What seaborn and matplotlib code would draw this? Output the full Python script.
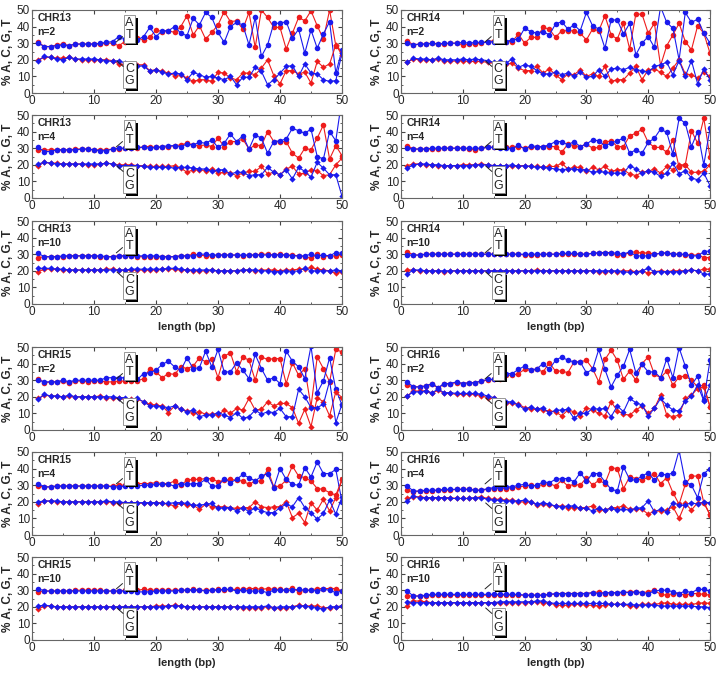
import numpy as np
import matplotlib
matplotlib.use("Agg")
import matplotlib.pyplot as plt
import matplotlib.patheffects as pe
from matplotlib.ticker import MultipleLocator
import seaborn as sns

# x positions (bp)
length = list(range(1, 51))

# ---- CHR13 ----
chr13_n2_a = [30.5,28,28,29,29.5,28.5,29.5,29.5,29.5,29.5,29.5,30,30,28.5,31,33,33,32,33.5,38,37,37.5,36.5,40,46.5,35,40.5,32.5,36.5,41,49,43,43.5,38.5,48.5,27.5,50,45.5,39.5,39.5,26.5,36,45.5,43.5,49.5,40.5,32.5,50,28.5,25]
chr13_n2_t = [30,28,28,28.5,29,28.5,29.5,29.5,29.5,29.5,30,30.5,31,34,32.5,33,32,34,39.5,34,37.5,37.5,40,36,34.5,45,41,48.5,45.5,36.5,30.5,40,42.5,41,29,45.5,22,29,42,42,43,33,38.5,24,38,27,35.5,43,12,26]
chr13_n2_c = [20,21.5,21.5,21,21,21.5,20.5,20,20,20,20,20,19.5,17.5,17,16.5,17,17,13.5,14,13,12,10.5,11,9,7,8,8,7,12.5,12,9,8,12,12,11,15,20,10.5,5.5,13.5,13.5,11.5,12.5,6,19,15.5,17.5,29,23]
chr13_n2_g = [19.5,22,21.5,20.5,20,21.5,20.5,20.5,20.5,20.5,20,19.5,19,19.5,18,16,16,16.5,13,14,12.5,11.5,12,11.5,8,12.5,11,9.5,10,9,8,10,5,9.5,9.5,15.5,13,5,8,12,16,16.5,10,17.5,12,11.5,8,7,7.5,24]

chr13_n4_a = [29,29,29,29,29,29,29.5,29.5,29.5,29,29,29,29.5,29.5,30,30,30,31,31,30.5,30.5,31,31.5,32,33,32,31.5,32,31,36,31,34,34,35.5,29.5,32,31.5,40,34,34,34,27,24,30,29,36,44,23.5,31.5,25.5]
chr13_n4_t = [30.5,28,28,29,29,29,29,29.5,29.5,29,28.5,28.5,29.5,30,30,30,30.5,30.5,30,30.5,31,31.5,31.5,31,32.5,32,33.5,33,35,30.5,33,38.5,34,37.5,29.5,38,36,27,34,34.5,35.5,42,40.5,39,41.5,25,23.5,40,34.5,60]
chr13_n4_c = [19.5,21.5,21,21,20.5,20.5,20.5,20.5,20,20,20.5,21,20.5,20,20,20,19.5,19.5,19,19,19,19,19.5,18,15.5,17,17,16.5,17.5,15,15.5,15,13.5,15,16,16,19,14.5,15.5,14,17.5,19,14.5,15,17,16.5,13.5,14,20,24]
chr13_n4_g = [20.5,21.5,21,20.5,20.5,20.5,20.5,20.5,20.5,20.5,20.5,21,20.5,19.5,19.5,19.5,19.5,19,18.5,18.5,18.5,18.5,18,18.5,18.5,18,17.5,17.5,16,17,17,14.5,15.5,15.5,13.5,14,14,18.5,15.5,14,17,11.5,18.5,16,12.5,21.5,18,14,14,1]

chr13_n10_a = [28,28.5,28.5,28.5,28.5,29,29,29,29,29,28.5,28.5,28.5,29,29,29,28.5,28.5,28.5,28.5,28.5,28.5,28.5,29,29,30,29.5,29,29,29.5,29.5,29.5,29.5,29,29.5,29.5,30,30,29.5,30,29.5,29.5,29,28.5,27.5,30,28.5,29,29,29.5]
chr13_n10_t = [30.5,28.5,28.5,28.5,29,29,29,29,29,29,29,28.5,28.5,29,29,29,29,29,29,29,28.5,28.5,28.5,29,29,29,30,30,29.5,29.5,29.5,29.5,29.5,29.5,29.5,29.5,29.5,29.5,29.5,29.5,29.5,29,29,29,30,29,29.5,29,31,30.5]
chr13_n10_c = [19.5,21,21,21,20.5,20.5,20.5,20.5,20.5,20.5,20.5,21,21,20.5,20.5,20.5,20.5,20.5,20.5,20.5,21,21,21,20.5,20.5,20,20,20,20.5,20,20,20,20,20.5,20.5,20,20.5,20.5,20.5,20,20.5,20.5,21,21,22,21,20.5,20,18.5,19.5]
chr13_n10_g = [21.5,21.5,21.5,21,21,20.5,20.5,20.5,20.5,20.5,20.5,20.5,20.5,20.5,20.5,21,21,21,21,21,21,21.5,21.5,21,20.5,20.5,20.5,20.5,20.5,20,20,20,20,20.5,20.5,20.5,20,20,19.5,19.5,20,19.5,20,21.5,20,20,20,20,20.5,20]

# ---- CHR14 ----
chr14_n2_a = [31.5,29,29.5,29.5,30,29.5,29.5,30,30,29,29.5,29.5,30,31,31.5,31.5,31,31,35.5,30,33.5,33.5,39.5,38.5,33.5,37.5,37.5,37.5,36,32,38.5,37.5,46.5,35,32.5,42,26.5,47.5,47.5,36,42,16.5,28.5,35,42,31,26,40.5,36,24]
chr14_n2_t = [30,29,29.5,29.5,30,29.5,30,30,30,30.5,30,30.5,30.5,30.5,31,31.5,31,32,32.5,39,37,36,37,35,41.5,43,38.5,41,37.5,48.5,40.5,38.5,27,44,44,35.5,42,23,30,34,27.5,52,42.5,39,20,48.5,42.5,44.5,36,30]
chr14_n2_c = [18.5,20.5,20,20,20,20.5,19.5,19,19.5,19.5,19,19,19,18.5,18,17,17.5,18,15,13.5,13.5,16,12,14.5,11,8,11.5,11,14,10,11.5,10,16,7,8,8,12,16,8,14,14.5,12.5,10,15,20,11.5,11,9,12.5,10]
chr14_n2_g = [18.5,21,20.5,20.5,20,21,20,20,20,20.5,20,20.5,20,19.5,18.5,19,18,20.5,15.5,17,16,13.5,11.5,11.5,12.5,11,12,10,12.5,9.5,10,14,10,14.5,15,14,15.5,14,13.5,12.5,16,17,18.5,11,19.5,10,19.5,5.5,14.5,8]

chr14_n4_a = [31.5,29.5,29.5,29.5,29.5,29.5,30,30,30,30,29.5,29,30,30.5,30.5,30.5,30.5,30.5,31,30,30.5,30.5,31,31,31,27.5,32.5,31.5,31,32.5,30,30.5,33.5,34.5,31,31,37.5,39,41.5,33.5,30.5,30.5,27.5,35,18.5,20,40.5,33,48,24.5]
chr14_n4_t = [30,29.5,29.5,29.5,30,30,30,30,30,30,30,30,30,30.5,30.5,30,30,29.5,32,29.5,31.5,31,31,32,34,34,32,34,31,32.5,35,34.5,31.5,33,34.5,36,27,29,27,33.5,36,41.5,39.5,26.5,48,45,31,40,20,42]
chr14_n4_c = [19.5,20.5,20.5,20,20,19.5,19.5,19.5,19.5,20,20,20,20.5,20,19.5,19.5,19,19,19.5,19.5,19,19,18.5,19,19,21,17.5,18.5,18.5,16,18.5,17,19,16,17,17,14.5,13.5,15.5,16,17.5,15,19,17,20,20,15.5,15.5,16,20]
chr14_n4_g = [18,20,20.5,20.5,20,20,19.5,19.5,19.5,19.5,19.5,20,20,20,19.5,19.5,19.5,20,19,19.5,19,18.5,18.5,18,17.5,17,17.5,17.5,17,17,15.5,16,15.5,15,15,15,19.5,17.5,15,16.5,15.5,13,15,21,14.5,16.5,12,11,15,7.5]

chr14_n10_a = [31.5,29.5,29.5,30,30,30,30,30,30,30,30,30,30,30,30,30,30,30,30,29.5,29.5,29.5,30,30,30,30,30,30,30,30,30.5,30.5,30.5,30.5,29.5,29.5,31,31.5,30.5,31,30,30.5,30.5,30,30,29.5,29.5,29.5,28,28]
chr14_n10_t = [29.5,29.5,29.5,30,30,30,30,30,30,30,30,30,30,30,30,30,30,30,30,30,30,30,30,30,30,30.5,30.5,30.5,30,30,30.5,31,31,31,30.5,30,31.5,29,29,29,30,30.5,31,30,30,30,29,29,31.5,32]
chr14_n10_c = [20.5,20.5,20,20,20,20,19.5,20,20,20,20,20,20,20,20,20,20,20,20,20,20,20.5,20,20,20,20,20,20,20,20,20,19.5,19.5,20,19.5,20,20,19.5,20,18.5,19.5,20,19.5,20,20,20,20.5,20,21,21]
chr14_n10_g = [18,20.5,20.5,20,20,20,20,20,20,20,20,20,20,20,20,20,20,20,20,20,20,20,20,20,20,20,20,20,20,20,20,20,20,20,20,19.5,19,19,20,21.5,19.5,19.5,19.5,19.5,19.5,20,20.5,20,18,18]

# ---- CHR15 ----
chr15_n2_a = [31,28.5,29,29,29.5,28.5,29.5,29.5,29,29.5,29.5,29,29,29.5,29.5,29.5,29.5,31,37,35,31.5,34,33.5,38,37,38.5,43.5,41,42.5,31.5,44.5,46.5,35,44,42,30,44,42.5,43,43,28,40.5,33,37,14,44,37,29,48.5,47]
chr15_n2_t = [30,29,29,29,30,29,30,30,30,30,30,31.5,31.5,31.5,31.5,31,30.5,34,34.5,36,39.5,41.5,38,36,43.5,37,37.5,47.5,38,48.5,35,35,40.5,36,31,45.5,37,30,31.5,28,47.5,41.5,38,31,50.5,22.5,29.5,43.5,24.5,15]
chr15_n2_c = [19,21,20.5,20.5,20,20.5,20,20,20,20,20.5,19.5,19,19,18.5,18.5,18.5,17,15.5,15,14.5,10.5,14.5,12.5,11.5,10.5,11,9.5,9.5,9,12,10,13,12,19,12,12.5,17,14.5,16,16,13.5,4,12.5,2,19.5,17,8.5,23,19.5]
chr15_n2_g = [18.5,21.5,20.5,20.5,20,21,20,20,20,20,20,20,20,19.5,19.5,18,19,17,14.5,14.5,14,13.5,14.5,12.5,11,12,8,9,9,10.5,9,7.5,10.5,7,8,12,9.5,11,10.5,13,8,8,24.5,20,13.5,13.5,15.5,29.5,4.5,15.5]

chr15_n4_a = [29.5,29,29,29.5,29.5,29.5,29.5,29.5,29.5,29.5,29.5,29.5,29.5,30,30,31,31,31,31,31.5,31,31,32.5,30,33,33.5,33.5,34,34,32,33,33.5,33,32.5,30.5,32.5,32.5,39.5,29,29.5,33,41.5,35.5,34.5,32.5,28,27.5,25.5,24,33.5]
chr15_n4_t = [31,29,29,29.5,29.5,29.5,29.5,29.5,29.5,29.5,29.5,29.5,29,29,29.5,29.5,29.5,30,30,30.5,30.5,30.5,29.5,31,30.5,31,31,33.5,29.5,29.5,34,31.5,33.5,36.5,34.5,32.5,35.5,37,28.5,40,33.5,30.5,30,40.5,35,44,37,37,39.5,20]
chr15_n4_c = [18.5,20.5,20.5,20,20,20,20,20,20,20,20,20,19.5,19.5,19.5,19.5,19.5,19,19,19.5,19.5,18.5,17.5,19,18,18,15.5,18.5,17,17,17,16.5,16,16.5,16.5,20,17,16.5,17,17,20,10.5,13,7.5,19.5,15,21.5,14.5,22.5,33]
chr15_n4_g = [20,20.5,20.5,20.5,20,20,20,20,20,20,20,20.5,20,20,19.5,19.5,19.5,19.5,19.5,19.5,19,19,19.5,19.5,19,18,18,18.5,19,16,16.5,16.5,14.5,16.5,14,16.5,14.5,13.5,13.5,16.5,18.5,17,22.5,16.5,13.5,9.5,13,21,12.5,23]

chr15_n10_a = [29,29.5,29.5,29.5,29.5,29.5,30,30,30,30,30,29.5,29.5,29.5,30,30,30,30.5,30,30,30,30,30,30,30,30.5,30,30,30,30.5,30,30.5,30.5,30.5,31,31,30.5,31,30.5,30.5,30,31.5,29,30,30,31,31,31,31,29.5]
chr15_n10_t = [31,29.5,29.5,29.5,29.5,29.5,29.5,29.5,29.5,29.5,29.5,29.5,29.5,29.5,29.5,29.5,29,29,29,29.5,29.5,29.5,29.5,30,30,30,30,29.5,30,30,30.5,30.5,29.5,30,29.5,29.5,29.5,28.5,30,30,30,30,30.5,30,30,29.5,30.5,30,28.5,29.5]
chr15_n10_c = [18.5,20.5,20.5,20,20,20,20,20,20,20,20,20,20,20,20,20,20,20,20,20.5,20.5,20.5,21,20.5,20,20,20,20,20,20,20,20,20,19.5,19.5,19.5,19.5,20,19.5,19,19.5,20,21,20.5,20.5,20.5,19.5,19.5,20,20.5]
chr15_n10_g = [20.5,21,20.5,20,20,20,20,20,20,20,20,20,20,20,20,20,20,20,20,20,20,20.5,20.5,20.5,20,20,20,20,20,20,20,20,20,20,20,20,20,20.5,19.5,20,20,20,20.5,20.5,20,19.5,18.5,20,20,20.5]

# ---- CHR16 ----
chr16_n2_a = [27,26,26,26.5,27.5,25.5,27.5,28,28.5,28,28.5,28.5,29.5,30,30.5,31,33,33,34,36.5,36,36.5,35,40.5,35.5,35.5,34.5,41,41,42,37,29,42.5,48,42,30.5,35.5,30,40,44,33.5,31.5,35.5,27,32,32.5,30,26,27,14]
chr16_n2_t = [29,26,26,26.5,28,25.5,28,28,29,28,28.5,28.5,29.5,30.5,30.5,34,34,34,36.5,38.5,36,37,40,36.5,42,44,42,41,41,34.5,36.5,48.5,36.5,26,33,38.5,48.5,34.5,39.5,35,35,31.5,43,31.5,49.5,38.5,27,32.5,18,42]
chr16_n2_c = [20.5,23.5,23.5,23.5,22,24,22,22,21.5,21.5,21.5,21.5,20.5,19.5,19,17.5,16.5,16,15.5,13.5,12.5,12.5,12,11.5,11,8.5,12,11,8.5,13.5,12,10,8.5,17,11.5,9.5,9,12,14.5,10,13,21,9,8,9,19,21,25,26,14]
chr16_n2_g = [20.5,23,23,23.5,22.5,24.5,22.5,22.5,22,22,22,22,21.5,20.5,19.5,17,17,17,15,12.5,14,12.5,13.5,10,12,12,12.5,7,10,10,13,12.5,13,8,14.5,11,19,16.5,15,8.5,13,19,15,12,11.5,17.5,20.5,27,17.5,27]

chr16_n4_a = [27,26,26.5,26.5,26.5,27,27,27,27.5,27.5,27.5,27,27,27.5,28,28,28,28.5,29,29.5,30,29.5,30.5,31,29.5,33,29.5,30.5,30,34.5,30,33,31,40.5,40,28,35,34,33,35,37,31,34.5,25.5,18.5,30.5,35.5,35.5,19.5,12]
chr16_n4_t = [29.5,26.5,26.5,27,27,27,27.5,27.5,27.5,27.5,27.5,27,27,28,28.5,28.5,29,29,30,30.5,29.5,30,32,31.5,33.5,34,34,32,37.5,32.5,37,37,32,27.5,26.5,41,33.5,33,35.5,37.5,33,37,36,37.5,51,32,30,22.5,37,40]
chr16_n4_c = [22,23,23,22.5,22.5,22.5,22.5,22.5,22,22,22,22.5,23,22,21.5,21.5,21,21,20,20,20,18,18.5,18,17.5,17.5,16.5,16.5,16.5,16.5,17.5,15,15,16.5,16.5,17.5,15.5,15.5,15.5,12.5,14.5,14.5,15,17,10,19,15,19.5,19.5,12.5]
chr16_n4_g = [20.5,23.5,22.5,22.5,22.5,22.5,22.5,22,22,22,22,22.5,22.5,21.5,21,21,20.5,20.5,20.5,21,20,18.5,19.5,18.5,17.5,17,17.5,17.5,16,16,14.5,16,15,16,15,15.5,15,16,16.5,20.5,14,15.5,14,19.5,18,18,19.5,18.5,20,19]

chr16_n10_a = [26.5,26.5,26.5,26.5,27,27,27,27,27,27,27,27,27,27,27,27,27,27,27,27,27,27,27,27.5,27.5,28,28,28,28,28,28.5,29,28,28.5,28.5,28.5,29,29,28.5,29,30,27.5,27,28,28,27,28,28,27.5,27]
chr16_n10_t = [29.5,26.5,26.5,27,27.5,27.5,27.5,27.5,27.5,27.5,27.5,27.5,27.5,27.5,27.5,27.5,27.5,27.5,27.5,27,27,27,27,27.5,28,28,28,28,28,28,28.5,28,28.5,28.5,28.5,29,28.5,29,28.5,28,29.5,30,30,29,28,29.5,28.5,30.5,30.5,29.5]
chr16_n10_c = [20.5,23.5,23.5,23,22.5,22.5,22.5,22.5,22.5,22.5,22.5,22.5,22.5,22.5,22.5,22.5,22.5,22.5,22.5,22.5,23,23,22.5,22.5,21,21,21,21.5,21.5,21,21,20.5,21,21.5,21.5,21.5,20.5,20.5,21.5,21.5,21.5,22,22.5,21.5,21.5,21.5,21.5,22,22.5,22]
chr16_n10_g = [23,22.5,22.5,22.5,22.5,22.5,22.5,22.5,22.5,22.5,22.5,22.5,22.5,22.5,22.5,23,23,23,23,23,23,23.5,23.5,22.5,22,22,22,22,22,22,22,22,22,21.5,21.5,21.5,21.5,21,21,21,21,20.5,20.5,20.5,20.5,20.5,20.5,20,20,19.5]

panels = [
    ("CHR13", 2, chr13_n2_a, chr13_n2_t, chr13_n2_c, chr13_n2_g),
    ("CHR13", 4, chr13_n4_a, chr13_n4_t, chr13_n4_c, chr13_n4_g),
    ("CHR13", 10, chr13_n10_a, chr13_n10_t, chr13_n10_c, chr13_n10_g),
    ("CHR15", 2, chr15_n2_a, chr15_n2_t, chr15_n2_c, chr15_n2_g),
    ("CHR15", 4, chr15_n4_a, chr15_n4_t, chr15_n4_c, chr15_n4_g),
    ("CHR15", 10, chr15_n10_a, chr15_n10_t, chr15_n10_c, chr15_n10_g),
    ("CHR14", 2, chr14_n2_a, chr14_n2_t, chr14_n2_c, chr14_n2_g),
    ("CHR14", 4, chr14_n4_a, chr14_n4_t, chr14_n4_c, chr14_n4_g),
    ("CHR14", 10, chr14_n10_a, chr14_n10_t, chr14_n10_c, chr14_n10_g),
    ("CHR16", 2, chr16_n2_a, chr16_n2_t, chr16_n2_c, chr16_n2_g),
    ("CHR16", 4, chr16_n4_a, chr16_n4_t, chr16_n4_c, chr16_n4_g),
    ("CHR16", 10, chr16_n10_a, chr16_n10_t, chr16_n10_c, chr16_n10_g),
]

sns.set_style("ticks")
plt.rcParams['font.family'] = ['Liberation Sans', 'DejaVu Sans']

RED = '#ee1c1c'
BLUE = '#1a1aee'

W, H = 721, 675
fig = plt.figure(figsize=(W / 100, H / 100), dpi=100)

# panel geometry in pixels (left x, top y), same height/width
col_x = [32, 401]
col_w = [310, 309]
row_top = [10, 115, 221, 347, 452, 557]
ph = 83

for i, (chrom, n, a, t, c, g) in enumerate(panels):
    col = i // 6
    row = i % 6
    x0 = col_x[col]
    y0 = row_top[row]
    ax = fig.add_axes([x0 / W, 1 - (y0 + ph) / H, col_w[col] / W, ph / H])

    for vals, color, mk, ms in [(a, RED, 'o', 4.0), (t, BLUE, 'o', 4.0),
                                (c, RED, 'D', 3.2), (g, BLUE, 'D', 3.2)]:
        sns.lineplot(x=length, y=vals, ax=ax, color=color, marker=mk,
                     markersize=ms, markeredgewidth=0, linewidth=0.8,
                     clip_on=True)

    ax.set_xlim(0, 50)
    ax.set_ylim(0, 50)
    ax.xaxis.set_major_locator(MultipleLocator(10))
    ax.xaxis.set_minor_locator(MultipleLocator(5))
    ax.yaxis.set_major_locator(MultipleLocator(10))
    ax.yaxis.set_minor_locator(MultipleLocator(5))
    ax.tick_params(which='both', direction='in', top=True, right=True,
                   labelsize=8.5, pad=1.5, color='#444444')
    ax.tick_params(which='major', length=3)
    ax.tick_params(which='minor', length=1.5)
    for s in ax.spines.values():
        s.set_color('#666666')
        s.set_linewidth(0.8)

    ax.set_ylabel('% A, C, G, T', fontsize=8.5, fontweight='bold', labelpad=2)
    if row in (2, 5):
        ax.set_xlabel('length (bp)', fontsize=8, fontweight='bold', labelpad=3)
    else:
        ax.set_xlabel('')

    ax.text(0.018, 0.90, chrom, transform=ax.transAxes, fontsize=7.5,
            fontweight='bold', va='center', ha='left')
    ax.text(0.018, 0.73, 'n=%d' % n, transform=ax.transAxes, fontsize=7.5,
            fontweight='bold', va='center', ha='left')

    # labelled boxes with shadow
    for lbl, yc, (p0, p1) in [('A\nT', 0.77, ((14.6, 34.0), (13.6, 30.8))),
                              ('C\nG', 0.22, ((14.7, 16.0), (13.7, 19.3)))]:
        txt = ax.text(0.315, yc, lbl, transform=ax.transAxes, fontsize=9,
                      ha='center', va='center', linespacing=1.05,
                      bbox=dict(boxstyle='square,pad=0.12', fc='white',
                                ec='#888888', lw=0.6))
        txt.get_bbox_patch().set_path_effects([
            pe.SimplePatchShadow(offset=(1.8, -1.8), shadow_rgbFace='black', alpha=1),
            pe.Normal()])
        ax.annotate('', xy=p1, xytext=p0,
                    arrowprops=dict(arrowstyle='-', lw=0.7, color='#222222',
                                    shrinkA=0, shrinkB=0))

fig.savefig('out.png', dpi=100)
